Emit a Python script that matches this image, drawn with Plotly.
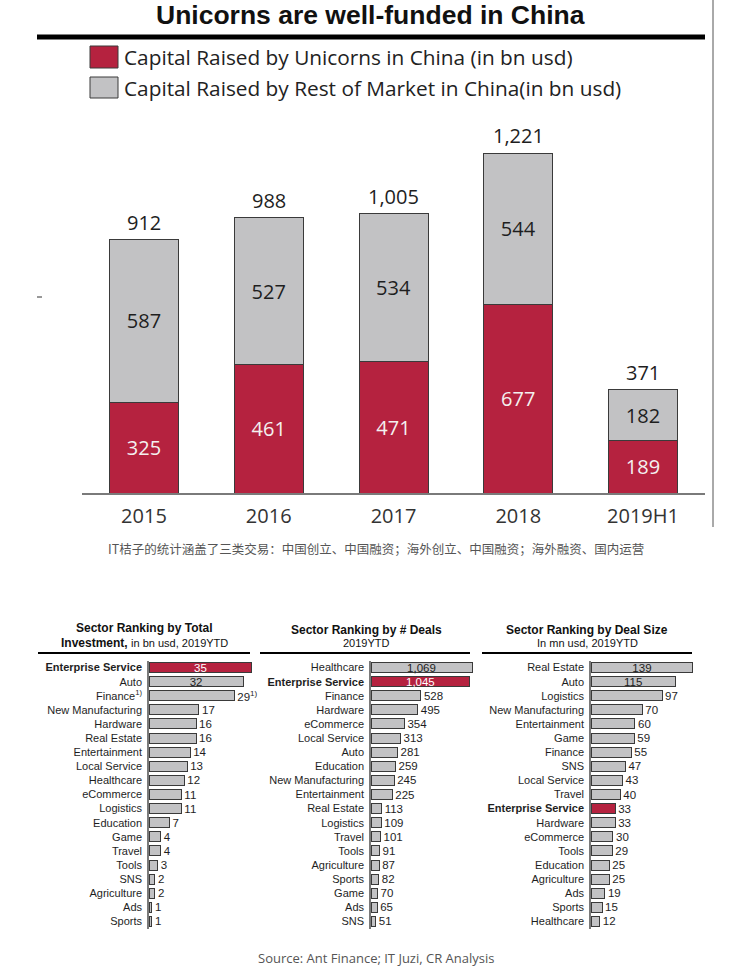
import plotly.graph_objects as go

# ---------------- data ----------------
years = ["2015", "2016", "2017", "2018", "2019H1"]
unicorn_capital = [325, 461, 471, 677, 189]
rest_capital = [587, 527, 534, 544, 182]
total_capital = [912, 988, 1005, 1221, 371]

inv_sectors = ["Enterprise Service", "Auto", "Finance", "New Manufacturing", "Hardware",
               "Real Estate", "Entertainment", "Local Service", "Healthcare", "eCommerce",
               "Logistics", "Education", "Game", "Travel", "Tools", "SNS", "Agriculture",
               "Ads", "Sports"]
inv_values = [35, 32, 29, 17, 16, 16, 14, 13, 12, 11, 11, 7, 4, 4, 3, 2, 2, 1, 1]

deal_sectors = ["Healthcare", "Enterprise Service", "Finance", "Hardware", "eCommerce",
                "Local Service", "Auto", "Education", "New Manufacturing", "Entertainment",
                "Real Estate", "Logistics", "Travel", "Tools", "Agriculture", "Sports",
                "Game", "Ads", "SNS"]
deal_values = [1069, 1045, 528, 495, 354, 313, 281, 259, 245, 225, 113, 109, 101, 91, 87,
               82, 70, 65, 51]

size_sectors = ["Real Estate", "Auto", "Logistics", "New Manufacturing", "Entertainment",
                "Game", "Finance", "SNS", "Local Service", "Travel", "Enterprise Service",
                "Hardware", "eCommerce", "Tools", "Education", "Agriculture", "Ads",
                "Sports", "Healthcare"]
size_values = [139, 115, 97, 70, 60, 59, 55, 47, 43, 40, 33, 33, 30, 29, 25, 25, 19, 15, 12]

footnote_sector = "Finance"
highlight_sector = "Enterprise Service"

# ---------------- style ----------------
W, H = 753, 967
RED = "#B5223F"
GRAY = "#C2C2C4"
OUTLINE = "#3a3a3a"
SANS = "Liberation Sans"
OPEN = "Open Sans"


def px(x):
    return x / W


def py(y):
    return 1 - y / H


fig = go.Figure()

# ---------------- top stacked bar chart ----------------
fig.add_trace(go.Bar(
    x=years, y=unicorn_capital, name="Capital Raised by Unicorns in China (in bn usd)",
    marker=dict(color=RED, line=dict(color=OUTLINE, width=1)),
    text=[f"{v:,}" for v in unicorn_capital], textposition="inside",
    insidetextanchor="middle", constraintext="none",
    textfont=dict(family=OPEN, size=20, color="#F4F0F0"),
    xaxis="x", yaxis="y", showlegend=False, hoverinfo="skip"))
fig.add_trace(go.Bar(
    x=years, y=rest_capital, name="Capital Raised by Rest of Market in China(in bn usd)",
    marker=dict(color=GRAY, line=dict(color=OUTLINE, width=1)),
    text=[f"{v:,}" for v in rest_capital], textposition="inside",
    insidetextanchor="middle", constraintext="none",
    textfont=dict(family=OPEN, size=20, color="#1e1e1e"),
    xaxis="x", yaxis="y", showlegend=False, hoverinfo="skip"))


# ---------------- bottom panels ----------------
def add_panel(sectors, values, idx, footnote=None):
    colors = [RED if s == highlight_sector else GRAY for s in sectors]
    texts = []
    for s, v in zip(sectors, values):
        t = f"{v:,}"
        if footnote and s == footnote:
            t += "<sup>1)</sup>"
        texts.append(t)
    positions = ["inside" if i < 2 else "outside" for i in range(len(values))]
    tcolors = [("#ffffff" if (i < 2 and colors[i] == RED) else "#1e1e1e")
               for i in range(len(values))]
    fig.add_trace(go.Bar(
        x=values, y=sectors, orientation="h", width=0.71,
        marker=dict(color=colors, line=dict(color=OUTLINE, width=1)),
        text=texts, textposition=positions, insidetextanchor="middle",
        constraintext="none", cliponaxis=False,
        textfont=dict(family=SANS, size=11.5, color=tcolors),
        xaxis=f"x{idx}", yaxis=f"y{idx}", showlegend=False, hoverinfo="skip"))


add_panel(inv_sectors, inv_values, 2, footnote=footnote_sector)
add_panel(deal_sectors, deal_values, 3)
add_panel(size_sectors, size_values, 4)


def ticktexts(sectors, footnote=None):
    out = []
    for s in sectors:
        if s == highlight_sector:
            out.append(f"<b>{s}</b>")
        elif footnote and s == footnote:
            out.append(f"{s}<sup>1)</sup>")
        else:
            out.append(s)
    return out


panel_top, panel_bot = 660.5, 928.5
panel_y_domain = [py(panel_bot), py(panel_top)]


def yaxis_panel(sectors, footnote=None, anchor="x2"):
    return dict(domain=panel_y_domain, anchor=anchor, type="category",
                categoryorder="array", categoryarray=sectors,
                range=[len(sectors) - 0.5, -0.5],
                tickvals=sectors, ticktext=ticktexts(sectors, footnote),
                tickfont=dict(family=SANS, size=11, color="#1e1e1e"),
                ticks="", ticklabelstandoff=3,
                showline=True, linecolor="#7a7a7a", linewidth=1.5,
                showgrid=False, zeroline=False, fixedrange=True)


def xaxis_panel(x0, x1, rng, anchor):
    return dict(domain=[px(x0), px(x1)], anchor=anchor, range=rng,
                visible=False, showgrid=False, zeroline=False, fixedrange=True)


layout = dict(
    width=W, height=H, margin=dict(l=0, r=0, t=0, b=0),
    paper_bgcolor="white", plot_bgcolor="rgba(0,0,0,0)",
    barmode="stack", bargap=0.447, showlegend=False,
    xaxis=dict(domain=[px(81.6), px(705.4)], anchor="y", type="category",
               range=[-0.5, len(years) - 0.5],
               showline=True, linecolor="#7a7a7a", linewidth=2,
               ticks="", ticklabelstandoff=4,
               tickfont=dict(family=OPEN, size=20, color="#333333"),
               showgrid=False, zeroline=False, fixedrange=True),
    yaxis=dict(domain=[py(493), py(131)], anchor="x", range=[0, 1300],
               visible=False, showgrid=False, zeroline=False, fixedrange=True),
    xaxis2=xaxis_panel(149, 149 + 40 * 2.94, [0, 40], "y2"),
    yaxis2=yaxis_panel(inv_sectors, footnote_sector, "x2"),
    xaxis3=xaxis_panel(371, 371 + 1200 * 0.0945, [0, 1200], "y3"),
    yaxis3=yaxis_panel(deal_sectors, None, "x3"),
    xaxis4=xaxis_panel(591, 591 + 150 * 0.733, [0, 150], "y4"),
    yaxis4=yaxis_panel(size_sectors, None, "x4"),
)
fig.update_layout(**layout)

shapes = []
annotations = []

# totals above the stacked bars (data coordinates; category index on x)
for i, tot in enumerate(total_capital):
    annotations.append(dict(xref="x", yref="y", x=i, y=tot, text=f"{tot:,}",
                            showarrow=False, yanchor="middle", yshift=17,
                            font=dict(family=OPEN, size=20, color="#1e1e1e")))


def line(x0, y0, x1, y1, color, width):
    shapes.append(dict(type="line", xref="paper", yref="paper",
                       x0=px(x0), y0=py(y0), x1=px(x1), y1=py(y1),
                       line=dict(color=color, width=width)))


def text(x, y, s, size, family=SANS, color="#111111", xanchor="center"):
    annotations.append(dict(xref="paper", yref="paper", x=px(x), y=py(y), text=s,
                            showarrow=False, xanchor=xanchor, yanchor="middle",
                            font=dict(family=family, size=size, color=color)))


# title & rule
text(370, 15, "<b>Unicorns are well-funded in China</b>", 26.5)
line(37, 37, 705, 37, "#000000", 5)
# right border & small dash
line(713, 0, 713, 527, "#555555", 1)
line(37, 297, 42, 297, "#333333", 1)

# legend
for (y0, y1, col) in [(46, 68, RED), (77, 98, GRAY)]:
    shapes.append(dict(type="rect", xref="paper", yref="paper",
                       x0=px(90), x1=px(118), y0=py(y1), y1=py(y0),
                       fillcolor=col, line=dict(color=OUTLINE, width=1)))
text(122, 57, "Capital Raised by Unicorns in China (in bn usd)", 20.8, OPEN, "#222222", "left")
text(122, 88, "Capital Raised by Rest of Market in China(in bn usd)", 20.8, OPEN, "#222222", "left")

# caption
text(376, 548, "IT桔子的统计涵盖了三类交易：中国创立、中国融资；海外创立、中国融资；海外融资、国内运营",
     12.5, "Noto Sans CJK SC", "#555555")

# panel titles
text(143.5, 628, "<b>Sector Ranking by Total</b>", 12)
text(144, 643, "<b>Investment,</b> <span style='font-size:11px'>in bn usd, 2019YTD</span>", 12)
text(366, 630, "<b>Sector Ranking by # Deals</b>", 12)
text(366, 643, "2019YTD", 11)
text(587, 630, "<b>Sector Ranking by Deal Size</b>", 12)
text(587, 643, "In mn usd, 2019YTD", 11)
line(38, 653, 250, 653, "#000000", 2)
line(260, 653, 470, 653, "#000000", 2)
line(482, 653, 692, 653, "#000000", 2)

# source
text(376, 958, "Source: Ant Finance; IT Juzi, CR Analysis", 13, OPEN, "#555555")

fig.update_layout(shapes=shapes, annotations=annotations)
fig.write_html("out.html", config={"displayModeBar": False},
               post_script="document.body.style.margin='0px';")
